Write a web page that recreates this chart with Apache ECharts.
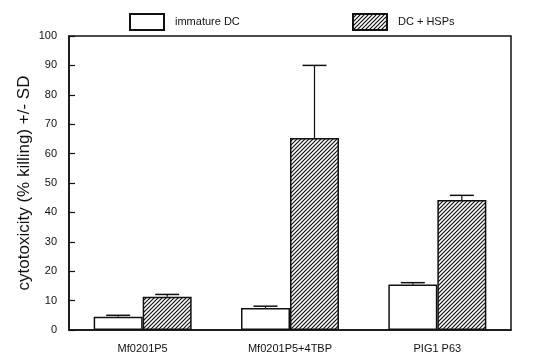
<!DOCTYPE html>
<html>
<head>
<meta charset="utf-8">
<script src="https://cdn.jsdelivr.net/npm/echarts@6/dist/echarts.min.js"></script>
<style>
  html, body { margin: 0; padding: 0; background: #fff; }
  #chart { width: 542px; height: 363px; }
</style>
</head>
<body>
<div id="chart"></div>
<script>
// 数据
const categories = ["Mf0201P5", "Mf0201P5+4TBP", "PIG1 P63"];
const immatureDC = [4.5, 7.5, 15.5];
const immatureSD = [0.5, 0.6, 0.6];
const dcHsps = [11.3, 65.3, 44.2];
const dcHspsSD = [0.8, 24.7, 1.6];
const yTicks = [0, 10, 20, 30, 40, 50, 60, 70, 80, 90, 100];

const FONT = "Liberation Sans";
const barWidthPx = 49;

// 斜线填充
function makeHatch() {
  const c = document.createElement("canvas");
  c.width = 4;
  c.height = 4;
  const ctx = c.getContext("2d");
  ctx.fillStyle = "#fff";
  ctx.fillRect(0, 0, 4, 4);
  ctx.strokeStyle = "#111";
  ctx.lineWidth = 1.2;
  ctx.beginPath();
  ctx.moveTo(-1, 5); ctx.lineTo(5, -1);
  ctx.moveTo(-1, 1); ctx.lineTo(1, -1);
  ctx.moveTo(3, 5); ctx.lineTo(5, 3);
  ctx.stroke();
  return c;
}
const hatch = { image: makeHatch(), repeat: "repeat" };

// 误差线（只画上半部分）
function errorSeries(name, values, sds, side) {
  return {
    name: name + " SD",
    type: "custom",
    z: 5,
    silent: true,
    data: values.map((v, i) => [i, v, v + sds[i]]),
    renderItem: function (params, api) {
      const lo = api.coord([api.value(0), api.value(1)]);
      const hi = api.coord([api.value(0), api.value(2)]);
      const x = lo[0] + side * barWidthPx / 2;
      const cap = 12;
      return {
        type: "group",
        children: [
          { type: "line", shape: { x1: x, y1: lo[1], x2: x, y2: hi[1] }, style: { stroke: "#111", lineWidth: 1.2 } },
          { type: "line", shape: { x1: x - cap, y1: hi[1], x2: x + cap, y2: hi[1] }, style: { stroke: "#111", lineWidth: 1.5 } }
        ]
      };
    }
  };
}

const legendBase = {
  top: 8,
  icon: "rect",
  itemWidth: 34,
  itemHeight: 16,
  textStyle: { fontFamily: FONT, fontSize: 11, color: "#111", padding: [0, 0, 0, 6] }
};

const chart = echarts.init(document.getElementById("chart"));
chart.setOption({
  animation: false,
  backgroundColor: "#fff",
  legend: [
    Object.assign({}, legendBase, { left: 124, data: ["immature DC"] }),
    Object.assign({}, legendBase, { left: 347, data: ["DC + HSPs"] })
  ],
  grid: {
    left: 69,
    right: 31,
    top: 36,
    bottom: 33,
    show: true,
    borderColor: "#111",
    borderWidth: 1.5,
    backgroundColor: "transparent"
  },
  xAxis: {
    type: "category",
    data: categories,
    axisLine: { lineStyle: { color: "#111", width: 1.5 } },
    axisTick: { show: false },
    axisLabel: { fontFamily: FONT, fontSize: 11, color: "#111", margin: 13 }
  },
  yAxis: {
    type: "value",
    min: yTicks[0],
    max: yTicks[yTicks.length - 1],
    interval: 10,
    name: "cytotoxicity (% killing) +/- SD",
    nameLocation: "middle",
    nameGap: 36,
    nameMoveOverlap: false,
    nameTextStyle: { fontFamily: FONT, fontSize: 17, color: "#111" },
    axisLine: { show: true, lineStyle: { color: "#111", width: 1.5 } },
    axisTick: { show: true, inside: true, length: 6, lineStyle: { color: "#111", width: 1.2 } },
    splitLine: { show: false },
    axisLabel: { fontFamily: FONT, fontSize: 11, color: "#111", margin: 12 }
  },
  series: [
    {
      name: "immature DC",
      type: "bar",
      barWidth: barWidthPx,
      barGap: "0%",
      data: immatureDC,
      itemStyle: { color: "#fff", borderColor: "#111", borderWidth: 1.5 }
    },
    {
      name: "DC + HSPs",
      type: "bar",
      barWidth: barWidthPx,
      barGap: "0%",
      data: dcHsps,
      itemStyle: { color: hatch, borderColor: "#111", borderWidth: 1.5 }
    },
    errorSeries("immature DC", immatureDC, immatureSD, -1),
    errorSeries("DC + HSPs", dcHsps, dcHspsSD, 1)
  ]
});
</script>
</body>
</html>
